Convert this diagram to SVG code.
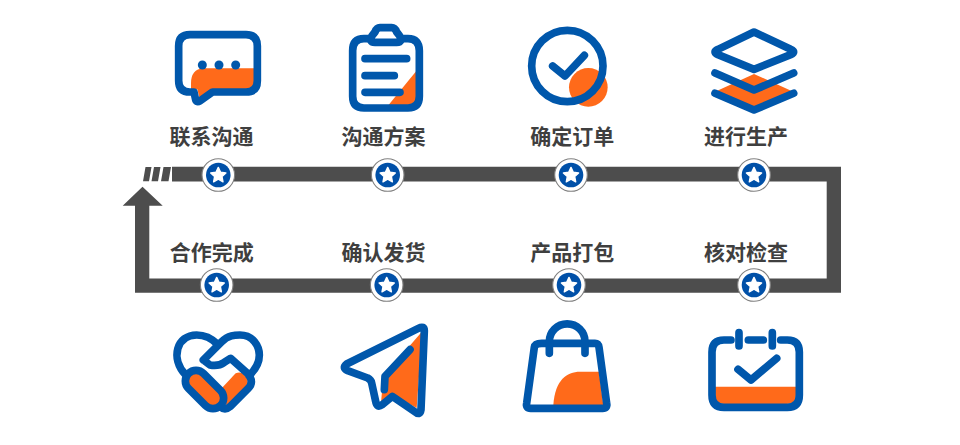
<svg xmlns="http://www.w3.org/2000/svg" xmlns:xlink="http://www.w3.org/1999/xlink" width="960" height="445" viewBox="0 0 960 445">
<style>
.b{fill:none;stroke:#0057ab;stroke-width:23;stroke-linecap:round;stroke-linejoin:round}
.o{fill:#ff6a1a}
.d{fill:#0057ab}
.t{font-family:"Noto Sans CJK SC","Noto Sans",sans-serif;font-size:21px;font-weight:700;fill:#3f3f3f;text-anchor:middle}
.track{fill:#4d4d4d}
</style>
<defs>
<g id="pin">
<circle r="16.3" fill="#fff" stroke="#808080" stroke-width="1.100"/>
<circle r="12.3" fill="#0050a8"/>
<path d="M0,-7.6 L2.3,-2.7 7.6,-2.1 3.7,1.6 4.7,6.8 0,4.2 -4.7,6.8 -3.7,1.6 -7.6,-2.1 -2.3,-2.7Z" fill="#fff" stroke="#fff" stroke-width="1.4" stroke-linejoin="round"/>
</g>
</defs>
<rect width="960" height="445" fill="#fff"/>
<g id="connectors">
<path class="track" d="M172,166.7H841V292.8H135V205.7H122.7L142.5,186.7 162.7,205.7H149.3V278.4H826.7V181.5H172Z"/>
<path class="track" d="M145.500,167H151.500L149,181.2H143Z M154,167H160.500L158,181.2H151.500Z M163.500,167H171L168.500,181.2H161Z"/>
</g>
<g id="node1">
<g transform="translate(120,10) scale(.33333)">
<path class="o" d="M403,175H250Q213,178 213,220V238H232L238,262 285,238H385Q403,238 403,220Z"/>
<path class="b" d="M210,74H378Q412,74 412,108V212Q412,246 378,246H278L240,273Q228,280 226,265L222,246H210Q176,246 176,212V108Q176,74 210,74Z"/>
<circle class="d" cx="247" cy="165" r="13.500"/><circle class="d" cx="297" cy="165" r="13.500"/><circle class="d" cx="347" cy="165" r="13.500"/>
</g>
<text class="t" x="211.500" y="144">联系沟通</text>
<use xlink:href="#pin" x="218.300" y="175"/>
</g>
<g id="node2">
<g transform="translate(340,18) scale(.33333)">
<path class="o" d="M145,262L232,155V262Z"/>
<path class="b" d="M92,62H72Q38,62 38,98V235Q38,270 72,270H204Q238,270 238,235V98Q238,62 204,62H182"/>
<path d="M120,29H155Q165,29 170,42L178,52Q190,73 170,73H105Q84,73 97,52L105,42Q110,29 120,29Z" fill="#fff" stroke="#0057ab" stroke-width="23" stroke-linejoin="round"/>
<path class="b" d="M75,122H200M75,173H163M75,223H180"/>
</g>
<text class="t" x="383.500" y="144">沟通方案</text>
<use xlink:href="#pin" x="387.700" y="175"/>
</g>
<g id="node3">
<g transform="translate(500,10) scale(.33333)">
<circle class="o" cx="265" cy="232" r="58"/>
<circle class="b" cx="202" cy="168" r="107"/>
<path class="b" d="M158,168L195,198 253,136"/>
</g>
<text class="t" x="572.300" y="144">确定订单</text>
<use xlink:href="#pin" x="571" y="175"/>
</g>
<g id="node4">
<g transform="translate(500,10) scale(.33333)">
<path class="o" d="M762,192L875,243 762,295 650,243Z"/>
<path class="b" d="M762,66L872,118Q890,126 872,134L762,178 654,134Q636,126 654,118Z"/>
<path class="b" d="M645,189L762,240 881,189M645,250L762,300 881,250"/>
</g>
<text class="t" x="746" y="144">进行生产</text>
<use xlink:href="#pin" x="754" y="175"/>
</g>
<g id="node5">
<g transform="translate(165,325) scale(.33333)">
<path class="o" d="M165,195L212,145Q235,135 248,165 250,180 240,192L185,242Z"/>
<path class="b" d="M62,150C15,100 35,30 95,30 125,30 145,45 158,58"/>
<path class="b" d="M115,105L170,50C190,30 210,30 225,30 265,30 283,65 283,90 283,115 270,135 252,152M115,105L135,120Q160,125 178,112L197,100 255,152"/>
<path class="b" d="M255,155Q265,175 250,190L195,245Q180,258 165,245"/>
<rect x="-68" y="-32" width="136" height="64" rx="32" class="o" stroke="#0057ab" stroke-width="23" transform="translate(118.500,193.500) rotate(45)"/>
</g>
<text class="t" x="211.800" y="260">合作完成</text>
<use xlink:href="#pin" x="216.700" y="285"/>
</g>
<g id="node6">
<g transform="translate(335,318) scale(.33333)">
<path class="o" d="M262,40L145,175 138,255 170,228 245,270Z"/>
<path class="b" d="M250,31Q268,22 268,38L258,275Q255,295 238,280L172,235 142,260Q125,272 122,250L110,195Q108,185 98,180L38,158Q20,150 35,138Z"/>
<path class="b" d="M225,95L150,175 148,215"/>
</g>
<text class="t" x="383.500" y="260">确认发货</text>
<use xlink:href="#pin" x="386.700" y="285"/>
</g>
<g id="node7">
<g transform="translate(500,230) scale(.33333)">
<path class="o" d="M160,525C165,450 200,425 240,425H297L310,525Z"/>
<path class="b" d="M125,340H285Q295,340 297,352L320,520Q323,535 308,535H92Q77,535 80,520L103,352Q105,340 125,340Z"/>
<path class="b" d="M148,370V335A52,52 0 0 1 255,335V370"/>
</g>
<text class="t" x="572.300" y="260">产品打包</text>
<use xlink:href="#pin" x="569" y="285"/>
</g>
<g id="node8">
<g transform="translate(500,230) scale(.33333)">
<path class="o" d="M645,470H888V495Q888,522 860,522H672Q645,522 645,495Z"/>
<path class="b" d="M693,330H672Q636,330 636,366V495Q636,532 672,532H862Q898,532 898,495V366Q898,330 862,330H842"/>
<path class="b" d="M745,330H790M717,308V348M817,308V348"/>
<path class="b" d="M714,418L753,450 830,385"/>
</g>
<text class="t" x="746" y="260">核对检查</text>
<use xlink:href="#pin" x="754" y="285"/>
</g>
</svg>
